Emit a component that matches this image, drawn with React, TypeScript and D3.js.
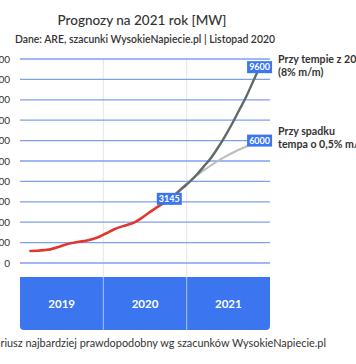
import React from "react";
import * as d3 from "d3";

const yTicks = [0, 1000, 2000, 3000, 4000, 5000, 6000, 7000, 8000, 9000, 10000];
const years = ["2019", "2020", "2021"];
// month index (0 = Jan 2019)
const actualMonths = [1, 2, 3, 4, 5, 6, 7, 8, 9, 10, 11, 12, 13, 14, 15, 16, 17, 18, 19, 20, 21];
const actualValues = [590, 600, 630, 680, 780, 900, 980, 1040, 1090, 1180, 1300, 1470, 1640, 1770, 1870, 1990, 2200, 2450, 2680, 2900, 3145];
const projMonths = [21, 22, 23, 24, 25, 26, 27, 28, 29, 30, 31, 32, 33, 34];
const fastValues = [3145, 3400, 3700, 4000, 4350, 4750, 5150, 5650, 6200, 6800, 7450, 8100, 8850, 9600];
const slowValues = [3145, 3450, 3750, 4030, 4300, 4550, 4780, 5000, 5200, 5380, 5550, 5700, 5850, 6000];

const W = 356, H = 364;
const left = 20, right = 270, top = 59, bottom = 263;
const BLUE = "#3b76f0";
const FONT = "Lato, 'Noto Sans', sans-serif";

export default function App() {
  const x = d3.scaleLinear().domain([0, 36]).range([left, right]);
  const y = d3.scaleLinear().domain([0, 10000]).range([bottom, top]);
  const line = d3.line<[number, number]>()
    .x(d => x(d[0] + 0.5))
    .y(d => y(d[1]))
    .curve(d3.curveMonotoneX);
  const actual = line(actualMonths.map((m, i) => [m, actualValues[i]]));
  const fast = line(projMonths.map((m, i) => [m, fastValues[i]]));
  const slow = line(projMonths.map((m, i) => [m, slowValues[i]]));

  const box = (m: number, v: number, label: string) => (
    <g key={label}>
      <rect x={x(m + 0.5) - 12.5} y={y(v) - 6} width={25} height={12} fill={BLUE} />
      <text x={x(m + 0.5)} y={y(v) + 3.3} textAnchor="middle" fill="#fff" fontSize={9} fontWeight={700} fontFamily={FONT}>{label}</text>
    </g>
  );

  const bandTop = 277, bandBottom = 330;
  const yearBand = d3.scaleBand().domain(years).range([left, right]);

  return (
    <svg width={W} height={H} style={{ position: "absolute", left: 0, top: 0, background: "#fff" }}>
      <text x={142} y={25} textAnchor="middle" fontSize={13.5} fontFamily={FONT} fill="#333" fontWeight={500}>Prognozy na 2021 rok [MW]</text>
      <text x={145} y={43} textAnchor="middle" fontSize={10.4} fontFamily={FONT} fill="#333" fontWeight={600}>Dane: ARE, szacunki WysokieNapiecie.pl | Listopad 2020</text>

      {years.slice(1).map(yr => (
        <line key={yr} x1={yearBand(yr)!} x2={yearBand(yr)!} y1={top} y2={bandTop} stroke="#e6e6e6" strokeWidth={1} />
      ))}
      {yTicks.map(t => (
        <g key={t}>
          <line x1={left} x2={right} y1={y(t)} y2={y(t)} stroke="#7f9ff0" strokeWidth={1.3} />
          <text x={10} y={y(t) + 3.5} textAnchor="end" fontSize={10} fontFamily={FONT} fill="#333">{t}</text>
        </g>
      ))}

      <path d={slow!} fill="none" stroke="#bdbdbd" strokeWidth={2} />
      <path d={fast!} fill="none" stroke="#5e6b6a" strokeWidth={2.4} />
      <path d={actual!} fill="none" stroke="#e0382c" strokeWidth={2.6} strokeLinecap="round" />

      {box(actualMonths[actualMonths.length - 1], actualValues[actualValues.length - 1], "3145")}
      {box(projMonths[projMonths.length - 1], fastValues[fastValues.length - 1], "9600")}
      {box(projMonths[projMonths.length - 1], slowValues[slowValues.length - 1], "6000")}

      <text x={278} y={63} fontSize={10.6} fontWeight={700} fontFamily={FONT} fill="#333">Przy tempie z 2020</text>
      <text x={278} y={76} fontSize={10.6} fontWeight={700} fontFamily={FONT} fill="#333">(8% m/m)</text>
      <text x={278} y={135} fontSize={10.6} fontWeight={700} fontFamily={FONT} fill="#333">Przy spadku</text>
      <text x={278} y={148} fontSize={10.6} fontWeight={700} fontFamily={FONT} fill="#333">tempa o 0,5% m/m</text>

      <path d={`M${left},${bandTop} H${right} V${bandBottom - 4} Q${right},${bandBottom} ${right - 4},${bandBottom} H${left + 4} Q${left},${bandBottom} ${left},${bandBottom - 4} Z`} fill={BLUE} />
      {years.slice(1).map(yr => (
        <line key={"d" + yr} x1={yearBand(yr)!} x2={yearBand(yr)!} y1={bandTop} y2={bandBottom} stroke="#a9c3fa" strokeWidth={1} />
      ))}
      {years.map(yr => (
        <text key={"t" + yr} x={yearBand(yr)! + yearBand.bandwidth() / 2} y={308} textAnchor="middle" fontSize={11.5} fontWeight={700} fontFamily={FONT} fill="#fff">{yr}</text>
      ))}

      <text x={326} y={347} textAnchor="end" fontSize={10.9} fontFamily={FONT} fill="#333">Scenariusz najbardziej prawdopodobny wg szacunków WysokieNapiecie.pl</text>
    </svg>
  );
}
